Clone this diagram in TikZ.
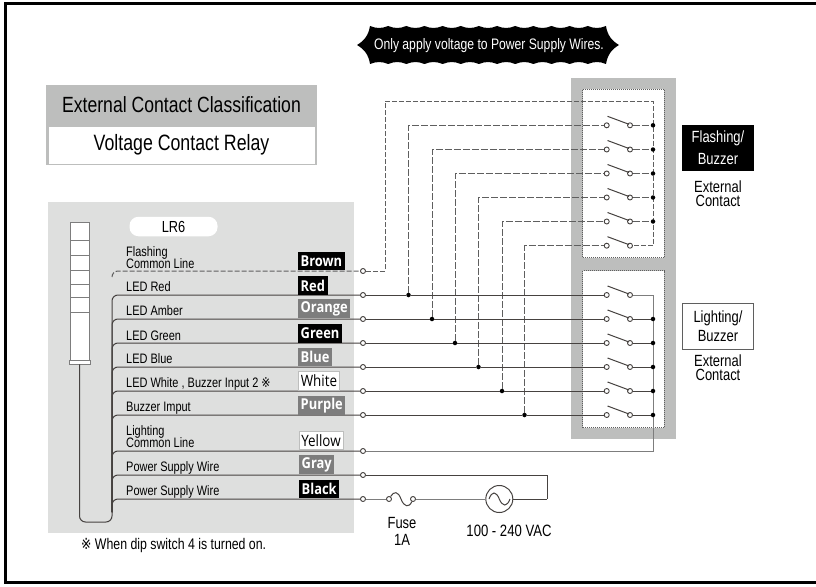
\documentclass[tikz,border=0pt]{standalone}
\usepackage{fontspec}
\setmainfont[FakeStretch=0.8]{Liberation Sans}
\newfontfamily\SymFont[FakeStretch=0.8]{DejaVu Sans}
\newfontfamily\TagFont[FakeStretch=0.86]{Open Sans}
\usepackage{xcolor}
\definecolor{Col1}{RGB}{189,190,189}
\definecolor{Col2}{RGB}{222,223,222}
\definecolor{Col3}{RGB}{70,66,64}
\definecolor{Col4}{RGB}{125,125,125}
\definecolor{Col5}{RGB}{95,95,95}
\usetikzlibrary{shapes}
\tikzstyle{Term}=[circle,draw=Col3,fill=white,inner sep=0pt,minimum size=5pt,line width=.9pt]
\tikzstyle{Dot}=[circle,fill=black,inner sep=0pt,minimum size=4.5pt]
\tikzstyle{Edge}=[draw=Col3,line width=1pt]
\tikzstyle{EdgeL}=[draw=Col4,line width=1pt]
\tikzstyle{Dash}=[draw=Col5,line width=1pt,dash pattern=on 7pt off 2pt]
\tikzstyle{Bent}=[Edge,rounded corners=6pt]
\tikzstyle{Inner}=[draw=Col5,fill=white,densely dotted,line width=1pt,inner sep=0pt]
\tikzstyle{Lamp}=[draw=Col4,fill=white,inner sep=0pt,minimum width=19pt,line width=.8pt]
\tikzstyle{Wire}=[anchor=base west,inner sep=0pt,font=\fontsize{13.7}{13.7}\selectfont]
\tikzstyle{TagK}=[anchor=west,fill=black,text=white,inner xsep=2.5pt,inner ysep=0pt,minimum height=18.5pt,font=\TagFont\bfseries\fontsize{15}{15}\selectfont]
\tikzstyle{TagG}=[TagK,fill=Col4]
\tikzstyle{TagW}=[TagK,fill=white,text=black,draw=Col1,line width=.6pt,font=\TagFont\fontsize{15.6}{15.6}\selectfont]
\tikzstyle{Side}=[align=center,font=\fontsize{16.2}{13.5}\selectfont]
\begin{document}
\begin{tikzpicture}[x=1pt,y=-1pt]
    \useasboundingbox(0,0)rectangle(816,586);
    % frame, open on the right
    \draw[black,line width=3pt](816,4)-|(5.5,582.5)--(816,582.5);
    % banner
    \fill[black](370,26)\foreach \i in {1,...,13}{to[bend right=22]++(18.15,0)}
        to[bend right=25](619,45)to[bend right=25](606,64)
        \foreach \i in {1,...,13}{to[bend right=22]++(-18.15,0)}
        to[bend right=25](357,45)to[bend right=25](370,26);
    \node[text=white,font=\fontsize{15.2}{15.2}\selectfont](banner)at(489,46){Only apply voltage to Power Supply Wires.};
    % classification
    \node[fill=Col1,minimum width=271pt,minimum height=80pt,inner sep=0pt](head)at(181.5,125){};
    \node[font=\fontsize{22}{22}\selectfont](classa)at(181.5,105){External Contact Classification};
    \node[fill=white,minimum width=266pt,minimum height=37pt,inner sep=0pt,font=\fontsize{22.2}{22.2}\selectfont](classb)at(181.5,145){Voltage Contact Relay};
    % lamp panel
    \node[fill=Col2,minimum width=306pt,minimum height=331pt,inner sep=0pt](panel)at(201,367.5){};
    \node[fill=white,rounded corners=9pt,minimum width=88pt,minimum height=19.5pt,inner sep=0pt,font=\fontsize{16}{16}\selectfont](lr)at(173.5,226.5){LR6};
    \node[Lamp,minimum height=18pt](L1)at(79.5,231.7){};
    \node[Lamp,minimum height=14.3pt](L2)at(79.5,247.8){};
    \node[Lamp,minimum height=15.5pt](L3)at(79.5,262.7){};
    \node[Lamp,minimum height=13.5pt](L4)at(79.5,277.2){};
    \node[Lamp,minimum height=13.5pt](L5)at(79.5,290.7){};
    \node[Lamp,minimum height=14.5pt](L6)at(79.5,304.7){};
    \node[Lamp,minimum height=48pt](L7)at(79.5,336){};
    \node[Lamp,minimum width=21pt,minimum height=4pt](base)at(79.5,362){};
    % right contact blocks
    \node[fill=Col1,minimum width=105pt,minimum height=361pt,inner sep=0pt](block)at(623.5,258){};
    \node[Inner,minimum width=81.5pt,minimum height=168.5pt](boxA)at(623.5,173.7){};
    \node[Inner,minimum width=81.5pt,minimum height=157pt](boxB)at(623.5,349.2){};
    % terminals
    \foreach \n/\y in {1/271,2/295,3/319,4/343,5/367,6/391,7/415,8/451,9/475,10/499}
        \node[Term](T\n)at(363,\y){};
    % flashing contacts
    \foreach \n/\y in {1/125.3,2/149.5,3/173.5,4/197.5,5/221.5,6/245.7}{
        \node[Term](SA\n)at(606.7,\y){};
        \node[Term](SB\n)at(630,\y){};
        \coordinate(RA\n)at(653,\y);
        \draw[Edge](607.5,\y-9)--(629,\y-1);
    }
    % lighting contacts
    \foreach \n/\y/\x in {1/295/408.5,2/319/432,3/343/455,4/367/478.5,5/391/502,6/415/524.5}{
        \node[Term](SC\n)at(606.7,\y){};
        \node[Term](SD\n)at(630,\y){};
        \node[Dot](J\n)at(\x,\y){};
        \coordinate(RB\n)at(653,\y);
        \draw[Edge](607.5,\y-9)--(629,\y-1);
    }
    \coordinate(Bus)at(112,277);
    \coordinate(Low)at(112,522);
    \coordinate(Mid)at(112,512);
    \coordinate(Bend)at(385,101);
    \coordinate(Top)at(653,101);
    \coordinate(Ret)at(547,499);
    % wires
    \draw[Bent](base.south)|-(Low)--(Mid);
    \draw[Dash,rounded corners=6pt,dash pattern=on 5pt off 2pt](Bus)|-(T1);
    \foreach \n in {2,...,10}\draw[Bent](Mid)|-(T\n);
    \draw[Dash,dash pattern=on 5pt off 2pt](T1)-|(Bend)--(Top)--(RA6)--(SB6);
    \foreach \n in {1,...,5}\draw[Dash](SB\n)--(RA\n);
    \foreach \n in {1,...,6}\draw[Dash](J\n)|-(SA\n);
    \foreach \n/\m in {1/2,2/3,3/4,4/5,5/6,6/7}{
        \draw[Edge](T\m)--(J\n);
        \draw[Edge](J\n)--(SC\n);
    }
    \foreach \n in {2,...,6}\draw[Edge](SD\n)--(RB\n);
    \draw[EdgeL](SD1)--(RB1);
    \draw[EdgeL](T8)-|(RB1);
    \foreach \n in {1,...,5}\node[Dot](DA\n)at(RA\n){};
    \foreach \n in {2,...,6}\node[Dot](DB\n)at(RB\n){};
    % power
    \node[Term](F1)at(389,499){};
    \node[Term](F2)at(413,499){};
    \node[circle,draw=Col3,line width=1pt,minimum size=27pt,inner sep=0pt](AC)at(499.3,499){};
    \draw[Edge](T9)-|(Ret);
    \draw[EdgeL](T10)--(F1);
    \draw[EdgeL](F2)--(AC);
    \draw[Edge](AC)--(Ret);
    \draw[Edge](F1).. controls (394,491) and (398,491) .. (401,499).. controls (404,507) and (409,508) .. (F2);
    \draw[Edge](489,499).. controls (492,491) and (496,491) .. (499.3,499).. controls (502.6,507) and (507,507) .. (510,499);
    % wire names
    \node[Wire](n1)at(126,256){Flashing};
    \node[Wire](n2)at(126,268){Common Line};
    \node[Wire](n3)at(126,291){LED Red};
    \node[Wire](n4)at(126,315.5){LED Amber};
    \node[Wire](n5)at(126,340){LED Green};
    \node[Wire](n6)at(126,363.5){LED Blue};
    \node[Wire](n7)at(126,387.5){LED White , Buzzer Input 2 {\SymFont ※}};
    \node[Wire](n8)at(126,411.5){Buzzer Imput};
    \node[Wire](n9)at(126,435){Lighting};
    \node[Wire](n10)at(126,447.5){Common Line};
    \node[Wire](n11)at(126,471){Power Supply Wire};
    \node[Wire](n12)at(126,495){Power Supply Wire};
    % colour tags
    \node[TagK](c1)at(298,261){Brown};
    \node[TagK](c2)at(298,285.5){Red};
    \node[TagG](c3)at(298,308.5){Orange};
    \node[TagK](c4)at(298,333.5){Green};
    \node[TagG](c5)at(298,357){Blue};
    \node[TagW](c6)at(298,381){White};
    \node[TagW](c8)at(298.5,440.5){Yellow};
    \node[TagG](c7)at(298,405.5){Purple};
    \node[TagG](c9)at(299,464.5){Gray};
    \node[TagK](c10)at(299,489){Black};
    \node[font=\fontsize{15.4}{15.4}\selectfont,anchor=base west,inner sep=0pt](note)at(81,549){{\SymFont ※} When dip switch 4 is turned on.};
    % side labels
    \node[Side,fill=black,text=white,minimum width=71.5pt,minimum height=45.7pt,inner sep=0pt](flash)at(718,148.2){Flashing/\\[6.5pt]Buzzer};
    \node[Side](ext1)at(718,193.5){External\\Contact};
    \node[Side,draw=Col5,fill=white,line width=.8pt,minimum width=71.5pt,minimum height=45.7pt,inner sep=0pt](light)at(718,326.2){Lighting/\\[3.5pt]Buzzer};
    \node[Side](ext2)at(718,367.5){External\\Contact};
    \node[Side](fuse)at(402,531.5){Fuse\\[3.5pt]1A};
    \node[Side,font=\fontsize{16.4}{16.4}\selectfont](vac)at(509,531){100 - 240 VAC};
\end{tikzpicture}
\end{document}
